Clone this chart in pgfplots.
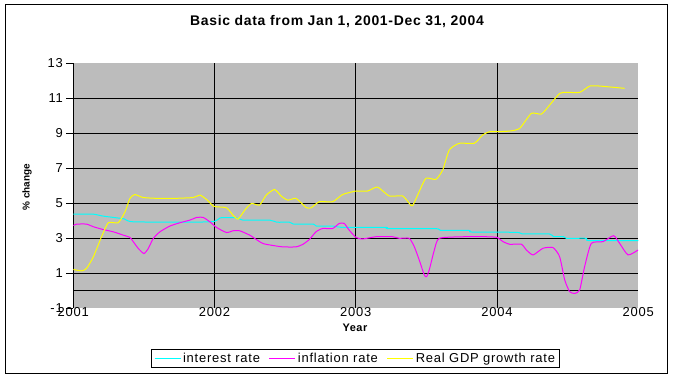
\documentclass[border=0pt]{standalone}
\usepackage{pgfplots}
\pgfplotsset{compat=1.18}
\usepackage{fontspec}
\setmainfont{Liberation Sans}
\definecolor{plotgray}{RGB}{188,188,188}
\definecolor{icyan}{RGB}{0,255,255}
\definecolor{imag}{RGB}{255,0,255}
\definecolor{iyel}{RGB}{255,255,0}
\begin{document}
\begin{tikzpicture}[x=1bp,y=1bp]
\useasboundingbox (0,0) rectangle (674,378);
\draw[black, line width=1bp] (5,5) rectangle (667,373);
\begin{axis}[
  at={(73.3bp,69.7bp)}, anchor=south west,
  scale only axis, width=565bp, height=245bp,
  xmin=2001, xmax=2005, ymin=-1, ymax=13,
  axis line style={draw=none},
  axis background/.style={fill=plotgray},
  ytick={-1,1,...,13}, xtick={2001,2002,2003,2004,2005},
  ytick pos=left, tick align=outside,
  major tick length=7bp,
  y tick style={black, line width=1bp},
  x tick style={draw=none},
  /pgf/number format/assume math mode=true,
  /pgf/number format/1000 sep={},
  tick label style={font=\fontsize{13}{15}\selectfont\addfontfeature{LetterSpace=6}},
  xticklabel style={anchor=center, yshift=3.5bp},
  extra y ticks={0,1,3,5,7,9,11}, extra y tick labels={},
  extra x ticks={2001,2002,2003,2004}, extra x tick labels={},
  extra tick style={grid=major, major tick length=0pt},
  grid style={black, line width=1bp},
  legend style={at={(0.4995,-0.205)}, anchor=center, legend columns=3,
    draw=black, line width=1bp, fill=white,
    font=\fontsize{13}{15}\selectfont\addfontfeature{LetterSpace=6},
    /tikz/every even column/.append style={column sep=7bp},
    inner ysep=2bp, inner xsep=3bp},
  legend image code/.code={\draw[#1, line width=1bp] (0bp,0bp) -- (26bp,0bp);},
  every axis plot/.append style={line width=1bp, smooth, tension=0.35},
]
\addplot[icyan] coordinates {
(2001.00,4.38) (2001.14,4.38) (2001.21,4.27) (2001.36,4.11) (2001.43,3.94)
(2001.97,3.94) (2002.04,4.17) (2002.155,4.17) (2002.20,4.04) (2002.39,4.04)
(2002.44,3.92) (2002.53,3.92) (2002.56,3.81) (2002.70,3.81) (2002.72,3.70)
(2002.84,3.70) (2002.91,3.62) (2003.21,3.63) (2003.23,3.55) (2003.57,3.55)
(2003.60,3.45) (2003.80,3.45) (2003.82,3.36) (2004.14,3.34) (2004.18,3.25)
(2004.37,3.25) (2004.40,3.10) (2004.47,3.10) (2004.49,3.00) (2004.63,3.00)
(2004.65,2.87) (2005.00,2.87)
};
\addlegendentry{interest rate}
\addplot[imag] coordinates {
(2001.000,3.73) (2001.024,3.81) (2001.094,3.81) (2001.142,3.66) (2001.212,3.50)
(2001.283,3.37) (2001.354,3.18) (2001.401,3.05) (2001.425,2.80) (2001.460,2.42)
(2001.500,2.13) (2001.531,2.42) (2001.566,2.99) (2001.613,3.37) (2001.684,3.70)
(2001.755,3.89) (2001.825,4.04) (2001.873,4.19) (2001.920,4.19) (2001.967,3.94)
(2002.014,3.62) (2002.085,3.33) (2002.131,3.43) (2002.178,3.43) (2002.249,3.18)
(2002.296,2.93) (2002.343,2.70) (2002.413,2.59) (2002.484,2.51) (2002.577,2.51)
(2002.624,2.65) (2002.671,2.93) (2002.718,3.37) (2002.765,3.56) (2002.836,3.56)
(2002.883,3.85) (2002.918,3.85) (2002.953,3.47) (2003.000,3.06) (2003.047,2.96)
(2003.142,3.09) (2003.260,3.09) (2003.307,3.00) (2003.378,3.00) (2003.414,2.52)
(2003.449,1.76) (2003.485,0.90) (2003.501,0.81) (2003.520,1.19) (2003.556,2.33)
(2003.591,3.00) (2003.768,3.09) (2003.922,3.09) (2004.000,3.05) (2004.042,2.81)
(2004.090,2.66) (2004.172,2.66) (2004.208,2.33) (2004.255,2.05) (2004.325,2.43)
(2004.396,2.47) (2004.443,1.95) (2004.479,0.62) (2004.514,-0.05) (2004.550,-0.15)
(2004.585,0.05) (2004.620,1.38) (2004.667,2.71) (2004.750,2.81) (2004.825,3.15)
(2004.868,2.71) (2004.927,2.05) (2004.998,2.33)
};
\addlegendentry{inflation rate}
\addplot[iyel] coordinates {
(2001.000,1.22) (2001.059,1.14) (2001.094,1.28) (2001.142,1.94) (2001.200,3.09)
(2001.248,3.89) (2001.318,3.89) (2001.366,4.51) (2001.401,5.28) (2001.436,5.50)
(2001.495,5.33) (2001.601,5.28) (2001.708,5.28) (2001.849,5.33) (2001.896,5.47)
(2001.943,5.22) (2001.991,4.84) (2002.014,4.80) (2002.085,4.74) (2002.131,4.32)
(2002.167,4.10) (2002.214,4.61) (2002.261,4.99) (2002.319,4.90) (2002.366,5.47)
(2002.425,5.79) (2002.472,5.41) (2002.519,5.18) (2002.577,5.28) (2002.648,4.76)
(2002.683,4.74) (2002.742,5.09) (2002.836,5.09) (2002.906,5.50) (2002.977,5.66)
(2003.000,5.70) (2003.083,5.70) (2003.154,5.93) (2003.236,5.42) (2003.331,5.42)
(2003.378,5.00) (2003.402,4.86) (2003.449,5.67) (2003.496,6.43) (2003.567,6.37)
(2003.615,6.90) (2003.662,8.05) (2003.733,8.43) (2003.839,8.43) (2003.898,8.90)
(2003.946,9.09) (2004.000,9.09) (2004.090,9.13) (2004.160,9.28) (2004.243,10.14)
(2004.314,10.10) (2004.373,10.62) (2004.443,11.28) (2004.491,11.34) (2004.585,11.34)
(2004.656,11.70) (2004.726,11.70) (2004.821,11.63) (2004.903,11.57)
};
\addlegendentry{Real GDP growth rate}
\end{axis}
\node[font=\fontsize{14}{16}\selectfont\bfseries\addfontfeature{LetterSpace=5}] at (337,356) {Basic data from Jan 1, 2001-Dec 31, 2004};
\node[rotate=90, font=\fontsize{10}{12}\selectfont\bfseries] at (27,191) {\% change};
\node[font=\fontsize{11}{13}\selectfont\bfseries\addfontfeature{LetterSpace=5}] at (355,50) {Year};
\end{tikzpicture}
\end{document}
